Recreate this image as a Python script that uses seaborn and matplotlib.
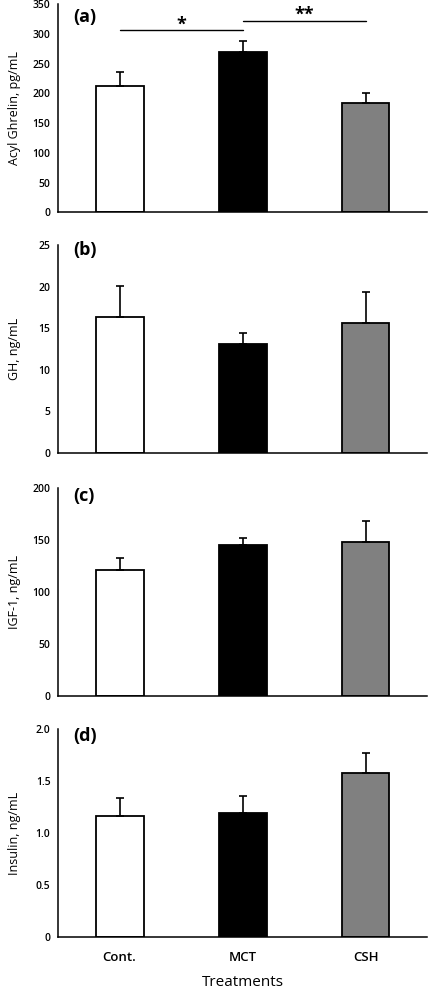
import matplotlib
matplotlib.use("Agg")
import matplotlib.pyplot as plt
import seaborn as sns
import numpy as np

# === data ===
groups = ["Cont.", "MCT", "CSH"]
colors = ["#ffffff", "#000000", "#808080"]

ghrelin = [213, 269, 184]
ghrelin_top = [236, 288, 200]
gh = [16.4, 13.1, 15.6]
gh_top = [20.1, 14.4, 19.3]
igf1 = [121, 145, 148]
igf1_top = [132.5, 151.5, 168.5]
insulin = [1.165, 1.195, 1.58]
insulin_top = [1.34, 1.36, 1.77]

panels = [
    ("(a)", "Acyl Ghrelin, pg/mL", ghrelin, ghrelin_top, 350, 50, None),
    ("(b)", "GH, ng/mL", gh, gh_top, 25, 5, None),
    ("(c)", "IGF-1, ng/mL", igf1, igf1_top, 200, 50, None),
    ("(d)", "Insulin, ng/mL", insulin, insulin_top, 2.0, 0.5, "{:.1f}"),
]

sns.set_theme(style="white")
plt.rcParams["font.family"] = ["Open Sans", "DejaVu Sans"]
plt.rcParams.update({"text.color": "black", "axes.labelcolor": "black",
                     "xtick.color": "black", "ytick.color": "black"})

fig = plt.figure(figsize=(4.3, 9.92), dpi=100)
bottoms = [0.786, 0.5433, 0.2984, 0.0554]
tag_y = [0.94, 0.975, 0.96, 0.965]

for i, (tag, ylab, vals, tops, ymax, step, fmt) in enumerate(panels):
    ax = fig.add_axes([0.135, bottoms[i], 0.858, 0.2097])
    sns.barplot(x=groups, y=vals, hue=groups, palette=colors, edgecolor="black",
                linewidth=1.3, width=0.39, legend=False, ax=ax)
    err = np.array(tops) - np.array(vals)
    ax.errorbar(range(3), vals, yerr=[np.zeros(3), err], fmt="none",
                ecolor="black", elinewidth=1.2, capsize=3, capthick=1.2)
    ax.set_xlim(-0.5, 2.5)
    ax.set_ylim(0, ymax)
    yt = np.arange(0, ymax + step / 2, step)
    ax.set_yticks(yt)
    if fmt:
        ax.set_yticklabels(["0"] + [fmt.format(v) for v in yt[1:]])
    else:
        ax.set_yticklabels([f"{v:g}" for v in yt])
    ax.set_xticks([-0.5, 0.5, 1.5, 2.5])
    ax.set_xticklabels([])
    ax.tick_params(axis="both", direction="out", length=3.5, width=1,
                   color="black", labelsize=7.5, pad=2)
    ax.tick_params(axis="x", length=4)
    for s in ["top", "right"]:
        ax.spines[s].set_visible(False)
    for s in ["left", "bottom"]:
        ax.spines[s].set_color("black")
        ax.spines[s].set_linewidth(1.1)
    ax.set_ylabel(ylab, fontsize=9, labelpad=4)
    ax.yaxis.set_label_coords(-0.1, 0.5)
    ax.set_xlabel("")
    ax.text(0.04, tag_y[i], tag, transform=ax.transAxes, fontsize=13,
            fontweight="bold", ha="left", va="center")
    for lbl in ax.get_yticklabels():
        lbl.set_fontweight("semibold")

    if i == 0:
        ax.plot([0, 1], [306, 306], color="black", lw=1, clip_on=False)
        ax.plot([1, 2], [322, 322], color="black", lw=1, clip_on=False)
        ax.text(0.5, 316, "*", ha="center", va="center", fontsize=13, fontweight="bold")
        ax.text(1.5, 332, "**", ha="center", va="center", fontsize=13, fontweight="bold")

    if i == 3:
        ax.set_xticks([0, 1, 2], minor=True)
        ax.set_xticklabels(groups, minor=True, fontsize=9.5, fontweight="semibold")
        ax.tick_params(axis="x", which="minor", length=0, pad=10)
        ax.set_xlabel("Treatments", fontsize=11, labelpad=8)

fig.savefig("out.png", dpi=100)
